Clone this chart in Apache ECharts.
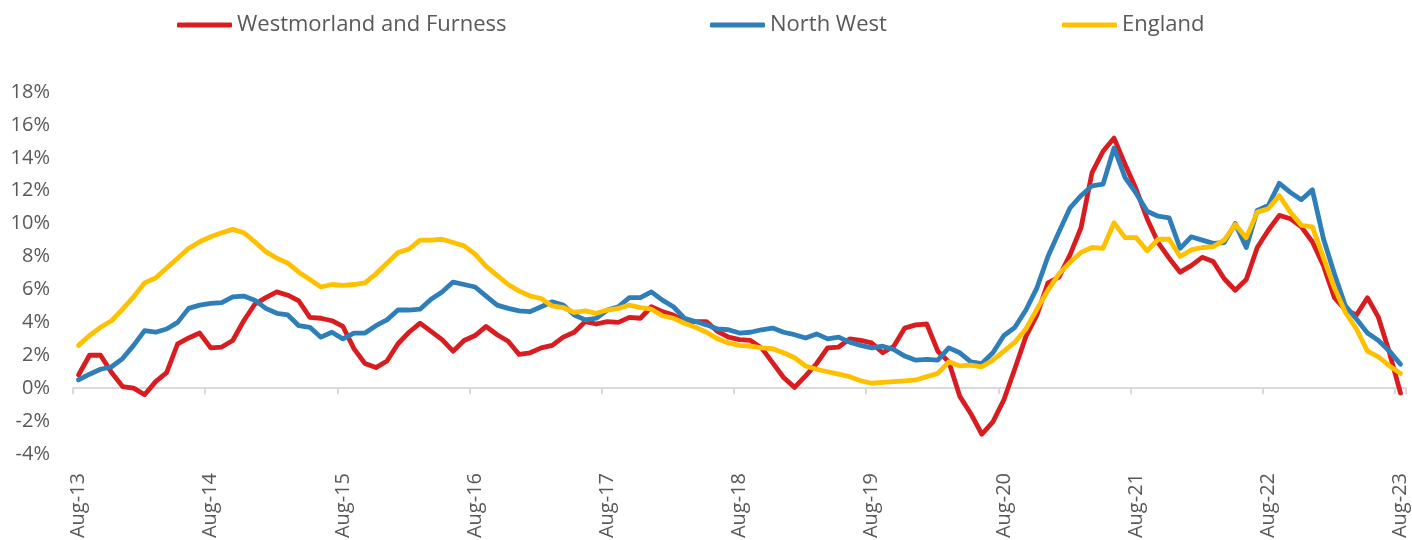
<!DOCTYPE html>
<html>
<head>
<meta charset="utf-8">
<script src="https://cdn.jsdelivr.net/npm/echarts@6/dist/echarts.min.js"></script>
<style>
  html, body { margin: 0; padding: 0; background: #fff; }
  #chart { width: 1412px; height: 540px; }
</style>
</head>
<body>
<div id="chart"></div>
<script>
// monthly series, Aug-13 .. Aug-23 (121 months)
const monthNames = ['Jan', 'Feb', 'Mar', 'Apr', 'May', 'Jun', 'Jul', 'Aug', 'Sep', 'Oct', 'Nov', 'Dec'];
const startYear = 2013;
const startMonth = 7; // Aug
const monthCount = 121;

const seriesNames = ['Westmorland and Furness', 'North West', 'England'];
const seriesColors = ['#d91c20', '#2e7eba', '#ffc000'];

const westmorland = [
  0.8, 2.0, 2.0, 0.95, 0.1, 0.0, -0.4, 0.4, 0.95, 2.7, 3.05, 3.35,
  2.45, 2.5, 2.9, 4.1, 5.1, 5.5, 5.85, 5.65, 5.3, 4.3, 4.25, 4.1,
  3.75, 2.4, 1.5, 1.25, 1.65, 2.7, 3.4, 3.95, 3.45, 2.95, 2.25, 2.9,
  3.2, 3.75, 3.25, 2.85, 2.05, 2.15, 2.45, 2.6, 3.1, 3.4, 4.05, 3.9,
  4.05, 4.0, 4.3, 4.25, 4.95, 4.65, 4.45, 4.05, 4.05, 4.05, 3.45, 3.1,
  2.95, 2.9, 2.45, 1.55, 0.65, 0.05, 0.75, 1.5, 2.45, 2.5, 3.0, 2.9,
  2.75, 2.15, 2.55, 3.65, 3.85, 3.9, 2.25, 1.6, -0.5, -1.55, -2.8, -2.05,
  -0.7, 1.2, 3.15, 4.45, 6.4, 6.75, 8.1, 9.75, 13.1, 14.4, 15.2, 13.6,
  12.1, 10.3, 8.85, 7.9, 7.05, 7.45, 7.95, 7.7, 6.65, 5.95, 6.6, 8.55,
  9.6, 10.5, 10.3, 9.8, 8.9, 7.45, 5.5, 4.75, 4.45, 5.5, 4.3, 2.15,
  -0.3
];

const northWest = [
  0.5, 0.85, 1.15, 1.3, 1.8, 2.6, 3.5, 3.4, 3.6, 4.0, 4.85, 5.05,
  5.15, 5.2, 5.55, 5.6, 5.35, 4.85, 4.55, 4.45, 3.8, 3.7, 3.1, 3.4,
  3.0, 3.35, 3.35, 3.8, 4.15, 4.75, 4.75, 4.8, 5.4, 5.85, 6.45, 6.3,
  6.15, 5.6, 5.05, 4.85, 4.7, 4.65, 4.95, 5.25, 5.05, 4.45, 4.15, 4.25,
  4.75, 4.95, 5.5, 5.5, 5.85, 5.35, 4.95, 4.25, 4.05, 3.85, 3.6, 3.55,
  3.35, 3.4, 3.55, 3.65, 3.4, 3.25, 3.05, 3.3, 3.0, 3.1, 2.8, 2.6,
  2.45, 2.55, 2.35, 1.95, 1.7, 1.75, 1.7, 2.45, 2.15, 1.6, 1.5, 2.15,
  3.2, 3.7, 4.75, 6.1, 8.0, 9.5, 10.95, 11.7, 12.3, 12.4, 14.6, 12.8,
  11.85, 10.75, 10.45, 10.35, 8.5, 9.2, 9.0, 8.8, 8.85, 10.0, 8.55, 10.8,
  11.1, 12.45, 11.9, 11.45, 12.05, 9.1, 6.95, 5.0, 4.2, 3.35, 2.9, 2.25,
  1.45
];

const england = [
  2.6, 3.2, 3.7, 4.1, 4.8, 5.55, 6.4, 6.7, 7.3, 7.9, 8.5, 8.9,
  9.2, 9.45, 9.65, 9.45, 8.9, 8.3, 7.9, 7.6, 7.05, 6.6, 6.15, 6.3,
  6.25, 6.3, 6.4, 6.95, 7.6, 8.25, 8.45, 9.0, 9.0, 9.05, 8.85, 8.65,
  8.15, 7.4, 6.85, 6.3, 5.9, 5.6, 5.45, 5.0, 4.9, 4.6, 4.7, 4.55,
  4.75, 4.85, 5.05, 4.9, 4.8, 4.4, 4.25, 3.95, 3.7, 3.4, 3.0, 2.75,
  2.6, 2.55, 2.45, 2.4, 2.15, 1.85, 1.35, 1.15, 1.0, 0.85, 0.7, 0.45,
  0.3, 0.35, 0.4, 0.45, 0.5, 0.7, 0.9, 1.6, 1.35, 1.4, 1.3, 1.7,
  2.25, 2.8, 3.6, 4.8, 5.95, 6.95, 7.65, 8.25, 8.55, 8.5, 10.05, 9.15,
  9.15, 8.35, 9.05, 9.05, 8.0, 8.4, 8.55, 8.6, 9.0, 9.95, 9.15, 10.7,
  10.9, 11.7, 10.7, 9.9, 9.8, 7.95, 6.1, 4.6, 3.6, 2.25, 1.9, 1.35,
  0.9
];

const seriesData = [westmorland, northWest, england];

const yMin = -4;
const yMax = 18;
const yStep = 2;

const months = [];
for (let i = 0; i < monthCount; i++) {
  const m = (startMonth + i) % 12;
  const y = startYear + Math.floor((startMonth + i) / 12);
  months.push(monthNames[m] + '-' + String(y).slice(2));
}

const textColor = '#595959';
const axisGray = '#d9d9d9';
const fontFamily = "'Open Sans', 'Noto Sans', sans-serif";

const chart = echarts.init(document.getElementById('chart'), null, { renderer: 'canvas' });

const legendLeft = [177, 710, 1062];

const option = {
  animation: false,
  backgroundColor: '#ffffff',
  textStyle: { fontFamily: fontFamily },
  legend: seriesNames.map((name, i) => ({
    data: [name],
    left: legendLeft[i],
    top: 14,
    padding: 0,
    icon: 'roundRect',
    itemWidth: 55,
    itemHeight: 5,
    itemGap: 0,
    textStyle: { color: textColor, fontSize: 22, fontFamily: fontFamily },
    selectedMode: false
  })),
  grid: {
    left: 73,
    right: 6,
    top: 92,
    bottom: 86,
    containLabel: false,
    outerBoundsMode: 'none'
  },
  xAxis: [
    {
      // labels along the bottom of the plot
      type: 'category',
      data: months,
      boundaryGap: true,
      position: 'bottom',
      axisLine: { show: false, onZero: false },
      axisTick: { show: false },
      splitLine: { show: false },
      axisLabel: {
        interval: 11,
        rotate: 90,
        margin: 19,
        color: textColor,
        fontSize: 20,
        fontFamily: fontFamily
      }
    },
    {
      // axis line crossing at 0%
      type: 'category',
      data: months,
      boundaryGap: true,
      position: 'bottom',
      axisLine: { show: true, onZero: true, lineStyle: { color: axisGray, width: 2 } },
      axisTick: { show: true, interval: 11, length: 6, alignWithLabel: false, lineStyle: { color: axisGray, width: 2 } },
      axisLabel: { show: false },
      splitLine: { show: false }
    }
  ],
  yAxis: {
    type: 'value',
    min: yMin,
    max: yMax,
    interval: yStep,
    axisLine: { show: false },
    axisTick: { show: false },
    splitLine: { show: false },
    axisLabel: {
      margin: 23,
      color: textColor,
      fontSize: 20,
      fontFamily: fontFamily,
      formatter: v => v + '%'
    }
  },
  series: seriesNames.map((name, i) => ({
    name: name,
    type: 'line',
    xAxisIndex: 0,
    data: seriesData[i],
    symbol: 'none',
    smooth: false,
    color: seriesColors[i],
    lineStyle: { color: seriesColors[i], width: 4.8, join: 'round', cap: 'round' },
    emphasis: { disabled: true },
    z: 2 + i
  }))
};

chart.setOption(option);
</script>
</body>
</html>
